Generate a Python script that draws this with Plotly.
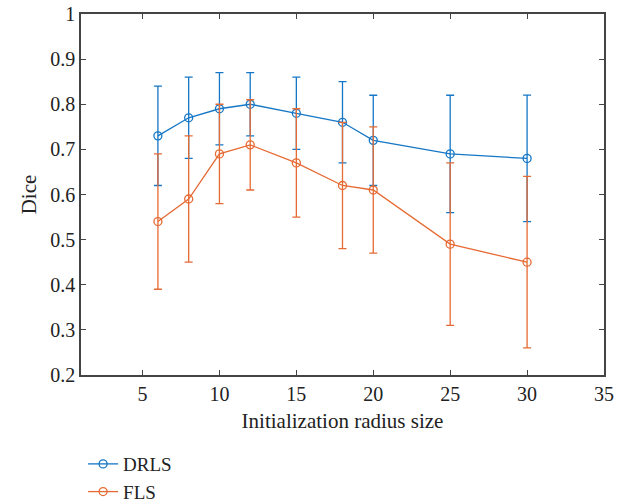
import plotly.graph_objects as go

radius = [6, 8, 10, 12, 15, 18, 20, 25, 30]
drls_mean = [0.73, 0.77, 0.79, 0.80, 0.78, 0.76, 0.72, 0.69, 0.68]
drls_err = [0.11, 0.09, 0.08, 0.07, 0.08, 0.09, 0.10, 0.13, 0.14]
fls_mean = [0.54, 0.59, 0.69, 0.71, 0.67, 0.62, 0.61, 0.49, 0.45]
fls_err = [0.15, 0.14, 0.11, 0.10, 0.12, 0.14, 0.14, 0.18, 0.19]

x_ticks = [5, 10, 15, 20, 25, 30, 35]
y_ticks = [0.2, 0.3, 0.4, 0.5, 0.6, 0.7, 0.8, 0.9, 1]
y_labels = ["0.2", "0.3", "0.4", "0.5", "0.6", "0.7", "0.8", "0.9", "1"]

blue = "#1577C6"
orange = "#E66A33"
font_family = "Liberation Serif, DejaVu Serif, serif"

fig = go.Figure()
for name, mean, err, color in [("DRLS", drls_mean, drls_err, blue),
                               ("FLS", fls_mean, fls_err, orange)]:
    fig.add_trace(go.Scatter(
        x=radius, y=mean, name=name, mode="lines+markers",
        line=dict(color=color, width=1.3),
        marker=dict(symbol="circle-open", size=8, color=color, line=dict(width=1.3)),
        error_y=dict(type="data", array=err, visible=True, color=color,
                     thickness=1.3, width=4),
    ))

axis_common = dict(
    showline=True, linecolor="#444444", linewidth=1.5, mirror="ticks",
    ticks="inside", ticklen=5, tickcolor="#444444", tickwidth=1,
    showgrid=False, zeroline=False, automargin=False,
    tickfont=dict(family=font_family, size=20, color="#222222"),
)

fig.update_layout(
    width=629, height=503,
    margin=dict(l=81, r=25, t=14, b=128, autoexpand=False),
    paper_bgcolor="white", plot_bgcolor="white",
    font=dict(family=font_family, size=20, color="#222222"),
    xaxis=dict(range=[1, 35], tickvals=x_ticks,
               title=dict(text="Initialization radius size", font=dict(size=21), standoff=10),
               **axis_common),
    yaxis=dict(range=[0.2, 1], tickvals=y_ticks, ticktext=y_labels,
               title=dict(text="Dice", font=dict(size=21), standoff=8),
               **axis_common),
    legend=dict(x=0.004, y=-0.194, xanchor="left", yanchor="top",
                orientation="v", font=dict(size=19, family=font_family),
                bgcolor="rgba(0,0,0,0)", tracegroupgap=0, itemwidth=30),
    showlegend=True,
)

fig.write_html("out.html", config={"displayModeBar": False},
               post_script="document.body.style.margin='0';")
